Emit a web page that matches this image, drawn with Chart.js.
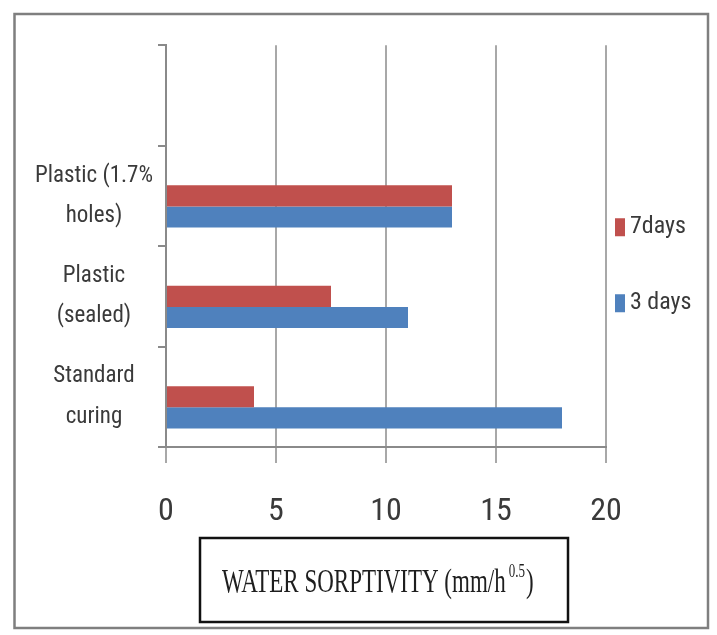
<!DOCTYPE html>
<html><head><meta charset="utf-8">
<script src="https://cdn.jsdelivr.net/npm/chart.js@4.4.1/dist/chart.umd.min.js"></script>
<style>html,body{margin:0;padding:0;background:#fff;overflow:hidden}canvas{display:block}</style>
</head><body>
<canvas id="c" width="717" height="635"></canvas>
<script>
// ---- data ----
const categories = ['', ['Plastic (1.7%', 'holes)'], ['Plastic', '(sealed)'], ['Standard', 'curing']];
const seriesNames = ['7days', '3 days'];
const days7 = [null, 13, 7.5, 4];
const days3 = [null, 13, 11, 18];
const spacer = [0, 0, 0, 0];
const xTicks = [0, 5, 10, 15, 20];
const axisTitle = 'WATER SORPTIVITY (mm/h';
const axisTitleSup = '0.5';
const axisTitleEnd = ')';
const seriesColors = ['#c0504d', '#4f81bd'];

const NARROW = '"Liberation Sans Narrow", "Arial Narrow", "Roboto Condensed", "Liberation Sans", sans-serif';
const SERIF = '"Liberation Serif", "Times New Roman", serif';

const decor = {
  id: 'decor',
  beforeDraw(chart) {
    const ctx = chart.ctx;
    ctx.save();
    ctx.fillStyle = '#fff';
    ctx.fillRect(0, 0, chart.width, chart.height);
    ctx.restore();
  },
  afterDraw(chart) {
    const ctx = chart.ctx, a = chart.chartArea;
    ctx.save();
    // outer frame
    ctx.strokeStyle = '#7f7f7f';
    ctx.lineWidth = 2.5;
    ctx.strokeRect(14.5, 14, 693.5, 614);
    // legend
    const items = chart.data.datasets.filter(d => d.label);
    ctx.font = '24px ' + NARROW;
    ctx.textBaseline = 'middle';
    ctx.textAlign = 'left';
    items.forEach((d, i) => {
      const cy = a.top + 182 + i * 76;
      ctx.fillStyle = d.backgroundColor;
      ctx.fillRect(a.right + 9, cy - 9, 10, 18);
      ctx.fillStyle = '#3a3a3a';
      ctx.fillText(d.label, a.right + 24, cy);
    });
    // axis title box
    ctx.strokeStyle = '#111';
    ctx.lineWidth = 2.5;
    ctx.strokeRect(200, 538, 368, 84);
    ctx.fillStyle = '#1e1e1e';
    ctx.textBaseline = 'alphabetic';
    ctx.translate(222, 592);
    ctx.scale(1, 1.5);
    ctx.font = '23px ' + SERIF;
    ctx.fillText(axisTitle, 0, 0);
    const w = ctx.measureText(axisTitle).width;
    ctx.font = '13px ' + SERIF;
    ctx.fillText(axisTitleSup, w + 3, -10);
    const w2 = ctx.measureText(axisTitleSup).width;
    ctx.font = '23px ' + SERIF;
    ctx.fillText(axisTitleEnd, w + 4 + w2, 0);
    ctx.restore();
  }
};

new Chart(document.getElementById('c'), {
  type: 'bar',
  data: {
    labels: categories,
    datasets: [
      { label: '', data: spacer, backgroundColor: 'rgba(0,0,0,0)', borderWidth: 0 },
      { label: seriesNames[0], data: days7, backgroundColor: seriesColors[0], borderWidth: 0 },
      { label: seriesNames[1], data: days3, backgroundColor: seriesColors[1], borderWidth: 0 }
    ]
  },
  options: {
    indexAxis: 'y',
    responsive: false,
    animation: false,
    categoryPercentage: 0.63,
    barPercentage: 1,
    layout: { padding: { left: 14, right: 111, top: 40, bottom: 0 } },
    plugins: { legend: { display: false }, tooltip: { enabled: false }, title: { display: false } },
    scales: {
      x: {
        type: 'linear',
        min: 0, max: 20,
        afterBuildTicks: s => { s.ticks = xTicks.map(v => ({ value: v })); },
        afterFit: s => { s.height = 188; },
        grid: { color: '#a8a8a8', lineWidth: 2, tickLength: 16, drawTicks: true },
        border: { color: '#8a8a8a', width: 2 },
        ticks: { font: { family: NARROW, size: 32 }, color: '#3a3a3a', padding: 30 }
      },
      y: {
        type: 'category',
        afterFit: s => { s.width = 152; },
        grid: { drawOnChartArea: false, drawTicks: true, tickLength: 8, color: '#8a8a8a', lineWidth: 2, offset: true },
        border: { color: '#8a8a8a', width: 2 },
        ticks: { font: { family: NARROW, size: 23, lineHeight: 1.75 }, color: '#3a3a3a', crossAlign: 'center', padding: 5 }
      }
    }
  },
  plugins: [decor]
});
</script>
</body></html>
